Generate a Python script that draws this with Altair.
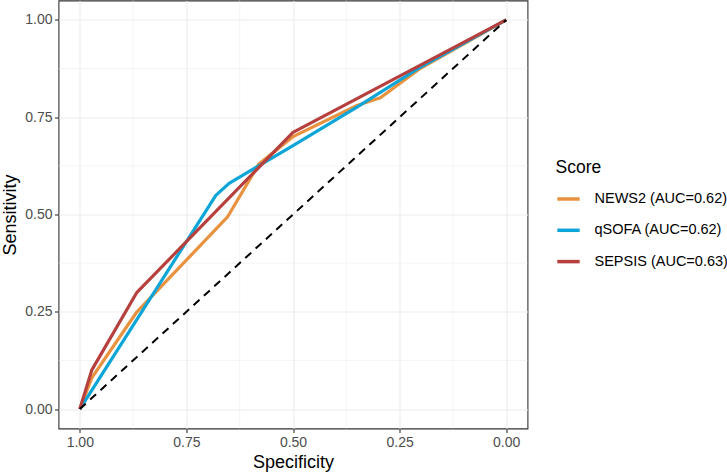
import altair as alt
import pandas as pd

# Legend entries and their line colours
score_labels = ["NEWS2 (AUC=0.62)", "qSOFA (AUC=0.62)", "SEPSIS (AUC=0.63)"]
score_colors = ["#E8923F", "#0CA5D8", "#B5403E"]

# ROC curve coordinates (specificity, sensitivity) for each score
news2_spec = [1.000, 0.972, 0.866, 0.654, 0.580, 0.500, 0.350, 0.295, 0.205, 0.000]
news2_sens = [0.000, 0.080, 0.250, 0.493, 0.630, 0.700, 0.780, 0.800, 0.873, 1.000]

qsofa_spec = [1.000, 0.681, 0.650, 0.500, 0.350, 0.205, 0.000]
qsofa_sens = [0.000, 0.549, 0.580, 0.677, 0.776, 0.876, 1.000]

sepsis_spec = [1.000, 0.972, 0.866, 0.500, 0.000]
sepsis_sens = [0.000, 0.100, 0.300, 0.711, 1.000]

# Chance line
chance_spec = [1.0, 0.0]
chance_sens = [0.0, 1.0]

# Axis ticks and minor grid positions
major_ticks = [0.0, 0.25, 0.5, 0.75, 1.0]
minor_ticks = [0.125, 0.375, 0.625, 0.875]

FONT = "Liberation Sans"
GRID = "#EBEBEB"


def curve_frame(label, spec, sens):
    return pd.DataFrame({
        "Specificity": spec,
        "Sensitivity": sens,
        "Score": label,
        "idx": list(range(len(spec))),
    })


x_scale = alt.Scale(domain=[-0.05, 1.05], reverse=True, nice=False, zero=False)
y_scale = alt.Scale(domain=[-0.05, 1.05], nice=False, zero=False)

x_axis = alt.Axis(
    title="Specificity", values=major_ticks, format=".2f",
    domain=False, grid=True, gridColor=GRID, gridWidth=1.1,
    tickColor="#333333", tickSize=4, tickWidth=1.1,
    labelFont=FONT, labelFontSize=14, labelColor="#4D4D4D", labelPadding=3,
    titleFont=FONT, titleFontSize=18, titleFontWeight="normal", titleColor="#000000",
    titleX=234.5, titleY=38.5, titleBaseline="alphabetic",
)
y_axis = alt.Axis(
    title="Sensitivity", values=major_ticks, format=".2f",
    domain=False, grid=True, gridColor=GRID, gridWidth=1.1,
    tickColor="#333333", tickSize=4, tickWidth=1.1,
    labelFont=FONT, labelFontSize=14, labelColor="#4D4D4D", labelPadding=2.5,
    titleFont=FONT, titleFontSize=18, titleFontWeight="normal", titleColor="#000000",
    titleX=-43.3, titleY=214, titleAngle=270, titleBaseline="alphabetic",
)

color = alt.Color(
    "Score:N",
    scale=alt.Scale(domain=score_labels, range=score_colors),
    legend=alt.Legend(
        title="Score", orient="none", legendX=497, legendY=158,
        symbolType="stroke", symbolSize=500, symbolStrokeWidth=3.5,
        labelFont=FONT, labelFontSize=14.5, labelColor="#000000", labelOffset=13,
        titleFont=FONT, titleFontSize=17.5, titleFontWeight="normal", titleColor="#000000",
        titlePadding=10, rowPadding=11.3, padding=0,
    ),
)

minor_df = pd.DataFrame({"v": minor_ticks})
minor_x = alt.Chart(minor_df).mark_rule(color=GRID, strokeWidth=0.55).encode(
    x=alt.X("v:Q", scale=x_scale, axis=x_axis)
)
minor_y = alt.Chart(minor_df).mark_rule(color=GRID, strokeWidth=0.55).encode(
    y=alt.Y("v:Q", scale=y_scale, axis=y_axis)
)


def curve_layer(label, spec, sens):
    return alt.Chart(curve_frame(label, spec, sens)).mark_line(
        strokeWidth=3.2, strokeJoin="round"
    ).encode(
        x=alt.X("Specificity:Q", scale=x_scale, axis=x_axis),
        y=alt.Y("Sensitivity:Q", scale=y_scale, axis=y_axis),
        color=color,
        order="idx:Q",
    )


news2 = curve_layer(score_labels[0], news2_spec, news2_sens)
qsofa = curve_layer(score_labels[1], qsofa_spec, qsofa_sens)
sepsis = curve_layer(score_labels[2], sepsis_spec, sepsis_sens)

chance_df = pd.DataFrame({"Specificity": chance_spec, "Sensitivity": chance_sens})
chance = alt.Chart(chance_df).mark_line(
    color="#000000", strokeWidth=2, strokeDash=[8, 6]
).encode(
    x=alt.X("Specificity:Q", scale=x_scale, axis=x_axis),
    y=alt.Y("Sensitivity:Q", scale=y_scale, axis=y_axis),
)

chart = alt.layer(minor_x, minor_y, news2, qsofa, sepsis, chance).properties(
    width=469,
    height=428,
    autosize=alt.AutoSizeParams(type="none"),
    padding={"left": 58.5, "top": 0.5, "right": 199.5, "bottom": 43.5},
    background="#FFFFFF",
).configure_view(
    stroke="#333333", strokeWidth=1.1, fill="#FFFFFF"
)

chart.save("out.html", embed_options={"renderer": "svg", "actions": False})
